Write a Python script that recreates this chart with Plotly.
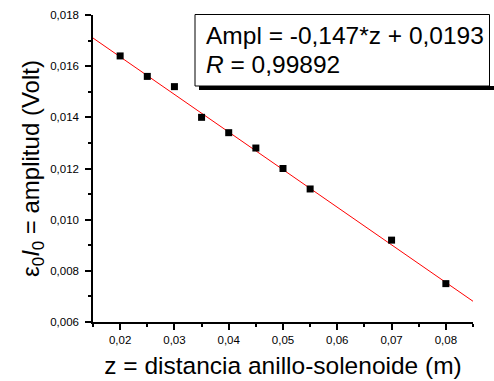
import plotly.graph_objects as go

# Data
z_vals = [0.020, 0.025, 0.030, 0.035, 0.040, 0.045, 0.050, 0.055, 0.070, 0.080]
amp_vals = [0.0164, 0.0156, 0.0152, 0.0140, 0.0134, 0.0128, 0.0120, 0.0112, 0.0092, 0.0075]

# Linear fit line endpoints (Ampl = -0,147*z + 0,0193)
fit_z = [0.015, 0.085]
fit_amp = [0.01710, 0.00681]

fit_lines = ["Ampl = -0,147*z + 0,0193", "<i>R</i> = 0,99892"]
x_title = "z = distancia anillo-solenoide (m)"
y_title = "ε<sub>0</sub><i>I</i><sub>0</sub> = amplitud (Volt)"

FONT = "Liberation Sans, Arial, sans-serif"

fig = go.Figure()
fig.add_trace(go.Scatter(x=fit_z, y=fit_amp, mode="lines",
                         line=dict(color="#ff0000", width=1), showlegend=False))
fig.add_trace(go.Scatter(x=z_vals, y=amp_vals, mode="markers",
                         marker=dict(symbol="square", size=7, color="black"),
                         showlegend=False))

W, H = 494, 381
L, R, T, B = 93, 21, 15, 59
pw, ph = W - L - R, H - T - B

def px(xp):
    return (xp - L) / pw

def py(yp):
    return (H - B - yp) / ph

axis_common = dict(showline=True, linecolor="black", linewidth=1.5,
                   ticks="outside", ticklen=6, tickwidth=1.5, tickcolor="black",
                   showgrid=False, zeroline=False, mirror=False,
                   tickfont=dict(family=FONT, size=11.5, color="black"))

fig.update_xaxes(range=[0.015, 0.085], tick0=0.02, dtick=0.01, tickformat=".2f",
                 minor=dict(ticks="outside", ticklen=3, tickwidth=1.5,
                            tickcolor="black", dtick=0.005, tick0=0.015, showgrid=False),
                 title=dict(text=x_title, font=dict(family=FONT, size=24.5, color="black"),
                            standoff=12),
                 **axis_common)
fig.update_yaxes(range=[0.006, 0.018], tick0=0.006, dtick=0.002, tickformat=".3f",
                 ticklabelstandoff=4,
                 minor=dict(ticks="outside", ticklen=3, tickwidth=1.5,
                            tickcolor="black", dtick=0.001, tick0=0.006, showgrid=False),
                 title=dict(text=y_title, font=dict(family=FONT, size=24, color="black"),
                            standoff=4),
                 **axis_common)

# Fit-result box with shadow
fig.add_shape(type="rect", xref="paper", yref="paper",
              x0=px(199), x1=px(500), y0=py(90), y1=py(86),
              fillcolor="black", line=dict(width=0), layer="above")
fig.add_shape(type="rect", xref="paper", yref="paper",
              x0=px(195), x1=px(489.5), y0=py(86), y1=py(14.5),
              fillcolor="white", line=dict(color="black", width=1), layer="above")
fig.add_annotation(xref="paper", yref="paper", x=px(204), y=py(35.5),
                   xanchor="left", yanchor="middle", showarrow=False,
                   text=fit_lines[0], font=dict(family=FONT, size=24.5, color="black"))
fig.add_annotation(xref="paper", yref="paper", x=px(204), y=py(64.5),
                   xanchor="left", yanchor="middle", showarrow=False,
                   text=fit_lines[1], font=dict(family=FONT, size=24.5, color="black"))

fig.update_layout(width=W, height=H, margin=dict(l=L, r=R, t=T, b=B, autoexpand=False),
                  paper_bgcolor="white", plot_bgcolor="white",
                  separators=",.", font=dict(family=FONT, color="black"))

fig.write_html("out.html", config={"displayModeBar": False},
               post_script="document.body.style.margin='0';document.body.style.padding='0';")
